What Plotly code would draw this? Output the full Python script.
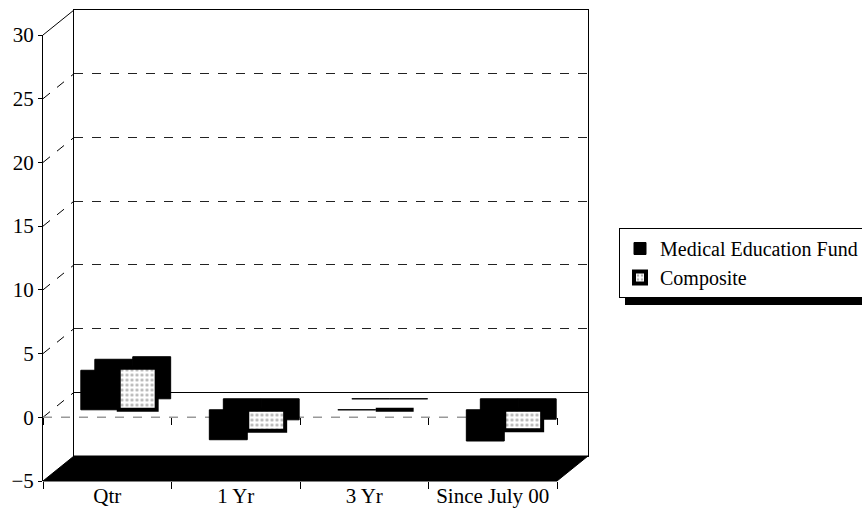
import plotly.graph_objects as go

# ---------------- data ----------------
categories = ["Qtr", "1 Yr", "3 Yr", "Since July 00"]
medical_education_fund = [3.1, -2.35, 0.0, -2.45]
composite = [3.3, -1.65, 0.0, -1.6]
y_ticks = [-5, 0, 5, 10, 15, 20, 25, 30]
y_min, y_max = -5, 30

# ---------------- layout geometry (pixels) ----------------
W, H = 862, 518
PL, PR, PT, PB = 43, 588, 10, 481          # plot area
DX, DY = 31, 25                            # 3-D depth of the wall box
pw, ph = PR - PL, PB - PT


def px(x):
    return (x - PL) / pw


def py(y):
    return (PB - y) / ph


front_bottom_px, front_top_px = PB, 35
back_bottom_px, back_top_px = PB - DY, PT
front_right_px = PR - DX
back_left_px = PL + DX

BAR_SX, BAR_SY = 11.5, 7.5      # bar front faces, relative to front plane
BAR_DX, BAR_DY = 14, 11         # bar depth (extrusion)

FONT = "Liberation Serif, Times New Roman, serif"

fig = go.Figure()

# bar extrusion (back faces, drawn on the lower subplot x4/y4)
for vals in (medical_education_fund, composite):
    fig.add_trace(go.Bar(
        x=categories, y=vals, showlegend=False, hoverinfo="skip",
        marker=dict(color="black", line=dict(color="black", width=1)),
        xaxis="x4", yaxis="y4"))

# bar front faces (upper subplot x5/y5)
fig.add_trace(go.Bar(
    name="Medical Education Fund", x=categories, y=medical_education_fund,
    marker=dict(color="black", line=dict(color="black", width=1)),
    xaxis="x5", yaxis="y5"))
fig.add_trace(go.Bar(
    name="Composite", x=categories, y=composite,
    marker=dict(color="white", line=dict(color="black", width=4),
                pattern=dict(shape=".", fgcolor="#666", bgcolor="white",
                             size=5, solidity=0.3)),
    xaxis="x5", yaxis="y5"))

# invisible traces to make the wall axes active
for xa, ya in (("x3", "y3"), ("x", "y2"), ("x6", "y2")):
    fig.add_trace(go.Scatter(x=categories, y=[None] * 4, xaxis=xa, yaxis=ya,
                             showlegend=False, hoverinfo="skip"))

shapes = []
# side wall lines (front axis -> back wall)
for v in y_ticks:
    if v == y_min:
        continue
    frac = (v - y_min) / (y_max - y_min)
    yf = front_bottom_px - frac * (front_bottom_px - front_top_px)
    yb = back_bottom_px - frac * (back_bottom_px - back_top_px)
    shapes.append(dict(type="line", xref="paper", yref="paper",
                       x0=px(PL), y0=py(yf), x1=px(back_left_px), y1=py(yb),
                       line=dict(color="black", width=1,
                                 dash="solid" if v == y_max else "dash"),
                       layer="below"))
# floor
fx0, fx1 = px(PL), px(front_right_px)
bx0, bx1 = px(back_left_px), px(PR)
path = (f"M {fx0},{py(front_bottom_px)} L {fx1},{py(front_bottom_px)} "
        f"L {bx1},{py(back_bottom_px)} L {bx0},{py(back_bottom_px)} Z")
shapes.append(dict(type="path", xref="paper", yref="paper", path=path,
                   fillcolor="black", line=dict(color="black", width=1)))
# front zero line
frac0 = (0 - y_min) / (y_max - y_min)
y0f = front_bottom_px - frac0 * (front_bottom_px - front_top_px)
shapes.append(dict(type="line", xref="paper", yref="paper",
                   x0=px(PL), x1=px(front_right_px), y0=py(y0f), y1=py(y0f),
                   line=dict(color="#999", width=1.5, dash="dash"), layer="below"))
# legend shadow
shapes.append(dict(type="rect", xref="paper", yref="paper",
                   x0=px(625), x1=px(880), y0=py(305), y1=py(235),
                   fillcolor="black", line=dict(width=0)))

fig.update_layout(
    width=W, height=H,
    margin=dict(l=PL, r=W - PR, t=PT, b=H - PB, pad=0, autoexpand=False),
    paper_bgcolor="white", plot_bgcolor="rgba(0,0,0,0)",
    font=dict(family=FONT, size=21, color="black"),
    barmode="group", bargap=0.41, bargroupgap=0,
    showlegend=True,
    legend=dict(x=px(619), y=py(228), xanchor="left", yanchor="top",
                bgcolor="white", bordercolor="black", borderwidth=1,
                font=dict(family=FONT, size=20), tracegroupgap=4,
                itemwidth=30),
    shapes=shapes,
    # front category labels
    xaxis=dict(domain=[0, px(front_right_px)], type="category",
               range=[-0.5, 3.5], anchor="y2", showline=False, showgrid=False,
               ticks="outside", tickson="boundaries", ticklen=7,
               tickcolor="black", zeroline=False, fixedrange=True),
    # ticks hanging from the front zero line
    xaxis6=dict(domain=[0, px(front_right_px)], type="category",
                range=[-0.5, 3.5], anchor="free", position=py(y0f),
                showline=False, showgrid=False, showticklabels=False,
                ticks="outside", tickson="boundaries", ticklen=7,
                tickcolor="black", zeroline=False, fixedrange=True),
    # front value axis
    yaxis2=dict(domain=[0, py(front_top_px)], range=[y_min, y_max],
                anchor="x", tickvals=y_ticks, showline=True, linecolor="black",
                ticks="outside", ticklen=4, tickcolor="black",
                showgrid=False, zeroline=False, fixedrange=True),
    # back wall
    xaxis3=dict(domain=[px(back_left_px), 1], type="category",
                range=[-0.5, 3.5], anchor="y3", showline=True, mirror=True,
                linecolor="black", showticklabels=False, ticks="",
                showgrid=False, zeroline=False, fixedrange=True),
    yaxis3=dict(domain=[py(back_bottom_px), 1], range=[y_min, y_max],
                anchor="x3", tickvals=y_ticks, showticklabels=False,
                showline=True, mirror=True, linecolor="black", ticks="",
                showgrid=True, gridcolor="#222", griddash="dash", gridwidth=1,
                zeroline=True, zerolinecolor="black", zerolinewidth=1,
                fixedrange=True),
    # bar extrusion
    xaxis4=dict(domain=[px(PL + BAR_SX + BAR_DX),
                        px(front_right_px + BAR_SX + BAR_DX)],
                type="category", range=[-0.5, 3.5], anchor="y4",
                visible=False, fixedrange=True),
    yaxis4=dict(domain=[py(front_bottom_px - BAR_SY - BAR_DY),
                        py(front_top_px - BAR_SY - BAR_DY)],
                range=[y_min, y_max], anchor="x4",
                visible=False, fixedrange=True),
    # bar front faces
    xaxis5=dict(domain=[px(PL + BAR_SX), px(front_right_px + BAR_SX)],
                type="category", range=[-0.5, 3.5], anchor="y5",
                visible=False, fixedrange=True),
    yaxis5=dict(domain=[py(front_bottom_px - BAR_SY), py(front_top_px - BAR_SY)],
                range=[y_min, y_max], anchor="x5",
                visible=False, fixedrange=True),
)

fig.write_html("out.html", config={"displayModeBar": False},
               post_script="document.body.style.margin='0';")
